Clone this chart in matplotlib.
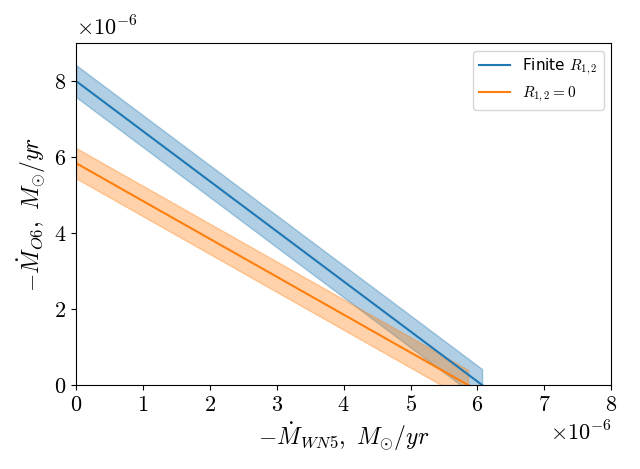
import numpy as np
import matplotlib
matplotlib.use("Agg")
import matplotlib.pyplot as plt
from matplotlib.ticker import FuncFormatter

plt.rcParams['mathtext.fontset'] = 'cm'

# Data (units of 1e-6 Msun/yr)
x_finite = [0.0, 6.07]
y_finite = [8.0, 0.0]
x_zero = [0.0, 5.86]
y_zero = [5.84, 0.0]
err_finite = 0.42
err_zero = 0.40
scale = 1e-6

fig = plt.figure(figsize=(6.4, 4.69), dpi=100)
ax = fig.add_axes([0.119, 0.179, 0.836, 0.729])

for xs, ys, err, c, lab in [(x_finite, y_finite, err_finite, 'C0', r'Finite $R_{1,2}$'),
                            (x_zero, y_zero, err_zero, 'C1', r'$R_{1,2} = 0$')]:
    xx = np.array(xs) * scale
    yy = np.array(ys) * scale
    ax.plot(xx, yy, color=c, label=lab)
    ax.fill_between(xx, yy - err * scale, yy + err * scale, color=c, alpha=0.35)

ax.set_xlim(0, 8e-6)
ax.set_ylim(0, 9e-6)
ax.set_xticks(np.arange(0, 9) * 1e-6)
ax.set_yticks(np.arange(0, 9, 2) * 1e-6)
fmt = FuncFormatter(lambda v, p: r'$%d$' % round(v / scale))
ax.xaxis.set_major_formatter(fmt)
ax.yaxis.set_major_formatter(fmt)
ax.tick_params(labelsize=16)

ax.set_xlabel(r'$-\dot{M}_{WN5},\ M_{\odot}/yr$', fontsize=17)
ax.set_ylabel(r'$-\dot{M}_{O6},\ M_{\odot}/yr$', fontsize=17)

ax.text(0.0, 1.01, r'$\times10^{-6}$', transform=ax.transAxes, fontsize=16,
        ha='left', va='bottom')
ax.text(1.0, -0.105, r'$\times10^{-6}$', transform=ax.transAxes, fontsize=16,
        ha='right', va='top')

ax.legend(loc='upper right', fontsize=11)

fig.savefig('out.png', dpi=100)
